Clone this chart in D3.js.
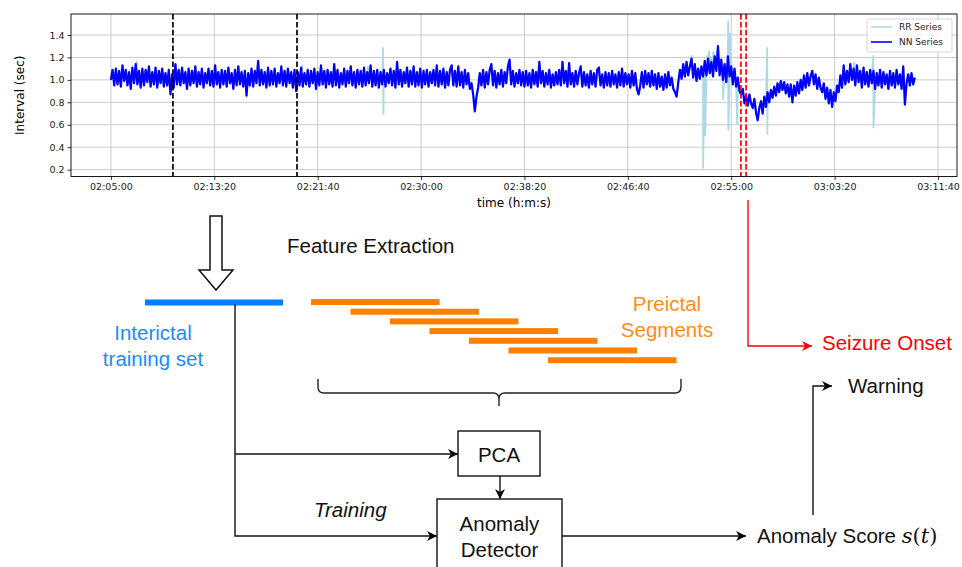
<!DOCTYPE html>
<html>
<head>
<meta charset="utf-8">
<script src="https://cdn.jsdelivr.net/npm/d3@7"></script>
<style>
  html, body { margin: 0; padding: 0; background: #fff; }
  svg { display: block; }
</style>
</head>
<body>
<svg id="fig" width="962" height="567"></svg>
<script>
// NN intervals (sec), one reading every 8 s from 02:05:00
const nnStart = "02:05:00";
const nnStep = 8;
const nnValues = [
  1.00,1.09,0.95,1.10,0.96,1.08,0.94,1.13,0.99,1.09, 0.95,1.07,0.92,1.11,0.97,1.14,0.96,1.08,0.93,1.10,
  0.95,1.09,0.98,1.12,0.94,1.07,0.96,1.11,0.93,1.08, 0.97,1.10,0.94,1.06,0.95,1.09,0.87,1.05,0.93,1.14,
  0.96,1.09,0.95,1.11,0.97,1.07,0.92,1.10,0.95,1.08, 0.97,1.12,0.94,1.07,0.96,1.10,0.93,1.06,0.97,1.10,
  0.95,1.08,0.94,1.13,0.96,1.07,0.93,1.09,0.96,1.08, 0.94,1.11,0.97,1.06,0.92,1.09,0.95,1.12,0.96,1.07,
  0.94,1.08,0.86,1.06,0.95,1.10,0.94,1.08,0.97,1.17, 0.95,1.09,0.96,1.07,0.93,1.11,0.95,1.08,0.96,1.10,
  0.94,1.06,0.97,1.12,0.95,1.08,0.94,1.10,0.97,1.07, 0.93,1.09,0.90,1.07,0.95,1.11,0.94,1.06,0.96,1.09,
  0.94,1.08,0.97,1.10,0.92,1.07,0.95,1.13,0.96,1.08, 0.93,1.09,0.96,1.07,0.94,1.14,0.95,1.09,0.93,1.06,
  0.96,1.10,0.94,1.08,0.97,1.12,0.95,1.07,0.93,1.09, 0.96,1.08,0.94,1.11,0.95,1.07,0.97,1.13,0.94,1.08,
  0.95,1.09,0.93,1.07,0.96,1.09,0.94,1.06,0.97,1.10, 0.95,1.08,0.93,1.16,0.96,1.09,0.94,1.07,0.97,1.11,
  0.94,1.08,0.96,1.12,0.94,1.07,0.95,1.10,0.93,1.08, 0.96,1.09,0.94,1.07,0.97,1.09,0.95,1.13,0.94,1.08,
  0.96,1.10,0.93,1.07,0.95,1.09,1.13,0.95,1.08,0.94, 1.12,0.95,1.07,0.93,1.09,0.96,1.06,0.92,0.97,0.87,
  0.72,0.85,0.93,1.06,0.95,1.09,0.93,1.07,0.96,1.09, 1.14,0.95,1.08,0.93,1.06,0.96,1.09,0.94,1.07,0.97,
  1.12,1.18,0.96,1.08,0.94,1.06,0.97,1.09,0.95,1.07, 0.94,1.08,0.95,1.06,0.93,1.09,0.96,1.07,0.94,1.16,
  0.97,1.08,0.94,1.06,0.96,1.09,0.93,1.05,0.95,1.07, 0.96,1.09,0.95,1.16,0.97,1.08,0.94,1.15,0.96,1.06,
  0.94,1.08,0.96,1.06,1.12,0.94,1.07,0.95,1.05,0.93, 1.08,0.96,1.06,0.94,1.09,1.11,0.95,1.05,0.93,1.07,
  0.95,1.06,0.94,1.08,0.96,1.05,0.93,1.07,0.95,1.10, 0.94,1.06,0.96,1.05,0.93,1.08,0.95,1.06,0.92,0.87,
  0.95,1.07,0.93,1.08,0.96,1.06,0.94,1.08,0.95,1.05, 0.92,1.06,0.94,1.03,0.91,1.05,0.93,1.07,0.95,1.02,
  0.92,0.89,0.85,0.98,1.09,1.01,1.14,1.03,1.16,1.04, 1.12,1.19,1.02,1.14,0.99,1.10,1.01,1.12,1.03,1.17,
  1.04,1.19,1.06,1.16,1.03,1.21,1.08,1.30,1.04,1.18, 1.00,1.14,0.98,1.21,1.03,1.12,0.96,1.10,0.94,1.02,
  0.90,0.87,0.92,0.79,0.86,0.77,0.87,0.79,0.75,0.83, 0.71,0.64,0.75,0.81,0.70,0.85,0.76,0.89,0.80,0.91,
  0.84,0.94,0.86,0.97,0.89,0.99,0.91,0.98,0.88,0.96, 0.85,0.96,0.80,0.95,0.86,0.98,0.88,1.00,0.91,1.04,
  0.93,1.06,0.95,1.03,1.08,0.96,1.05,0.92,1.02,0.93, 0.89,0.97,0.83,0.93,0.79,0.91,0.76,0.89,0.81,0.95,
  0.89,1.04,0.93,1.13,0.96,1.08,0.98,1.14,1.00,1.10, 0.95,1.13,0.98,1.08,0.93,1.11,0.96,1.07,0.94,1.09,
  0.97,1.08,0.92,1.06,0.95,1.09,0.93,1.07,0.96,1.05, 0.92,1.08,0.95,1.06,0.93,1.09,0.96,1.05,0.92,1.12,
  0.78,0.97,1.05,0.95,1.06,0.96,1.02
];

// beats where the raw RR series departs from the NN series
const rrArtifacts = [
  ["02:07:05", 1.17], ["02:20:24", 1.12], ["02:25:43", 1.12],
  ["02:26:56", 1.29], ["02:26:58", 0.69],
  ["02:51:48", 1.22], ["02:52:44", 0.21], ["02:52:54", 0.50],
  ["02:53:03", 1.22], ["02:53:13", 1.26], ["02:53:23", 1.20], ["02:53:33", 1.25],
  ["02:53:43", 1.21], ["02:53:52", 1.24], ["02:54:21", 0.82],
  ["02:54:45", 1.53], ["02:54:46", 0.55], ["02:54:53", 1.42], ["02:55:29", 0.60],
  ["02:57:54", 1.29], ["02:57:55", 0.51],
  ["03:04:55", 1.16], ["03:06:27", 1.22], ["03:06:28", 0.57]
];

const xTickLabels = ["02:05:00", "02:13:20", "02:21:40", "02:30:00", "02:38:20",
                     "02:46:40", "02:55:00", "03:03:20", "03:11:40"];
const yTickValues = [0.2, 0.4, 0.6, 0.8, 1.0, 1.2, 1.4];
const trainingMarks = ["02:10:00", "02:20:00"];
const onsetMarks = ["02:55:47", "02:56:12"];
const seriesNames = ["RR Series", "NN Series"];

function toSec(s) {
  const p = s.split(":").map(Number);
  return p[0] * 3600 + p[1] * 60 + p[2];
}

const svg = d3.select("#fig");
const plot = { left: 71, right: 957, top: 14, bottom: 176.5 };

const x = d3.scaleLinear()
  .domain([toSec("02:01:47"), toSec("03:13:12")])
  .range([plot.left, plot.right]);
const y = d3.scaleLinear()
  .domain([0.139, 1.587])
  .range([plot.bottom, plot.top]);

const t0 = toSec(nnStart);
const nn = nnValues.map((v, i) => ({ t: t0 + i * nnStep, v: v }));
const rr = nn.concat(rrArtifacts.map(d => ({ t: toSec(d[0]), v: d[1] })))
  .sort((a, b) => a.t - b.t);

svg.append("defs").append("clipPath").attr("id", "clip")
  .append("rect")
  .attr("x", plot.left).attr("y", plot.top)
  .attr("width", plot.right - plot.left).attr("height", plot.bottom - plot.top);

// grid
const grid = svg.append("g").attr("stroke", "#c4c4c4").attr("stroke-width", 0.9);
xTickLabels.forEach(s => {
  grid.append("line").attr("x1", x(toSec(s))).attr("x2", x(toSec(s)))
    .attr("y1", plot.top).attr("y2", plot.bottom);
});
yTickValues.forEach(v => {
  grid.append("line").attr("x1", plot.left).attr("x2", plot.right)
    .attr("y1", y(v)).attr("y2", y(v));
});

const line = d3.line().x(d => x(d.t)).y(d => y(d.v));
const lines = svg.append("g").attr("clip-path", "url(#clip)");

lines.append("path").datum(rr)
  .attr("d", line).attr("fill", "none")
  .attr("stroke", "#add8e6").attr("stroke-width", 1.8);

lines.append("path").datum(nn)
  .attr("d", line).attr("fill", "none")
  .attr("stroke", "#0000ff").attr("stroke-width", 2.2)
  .attr("stroke-linejoin", "round");

trainingMarks.forEach(s => {
  lines.append("line").attr("x1", x(toSec(s))).attr("x2", x(toSec(s)))
    .attr("y1", plot.top).attr("y2", plot.bottom)
    .attr("stroke", "#000").attr("stroke-width", 1.7)
    .attr("stroke-dasharray", "5.5,2.4");
});
onsetMarks.forEach(s => {
  lines.append("line").attr("x1", x(toSec(s))).attr("x2", x(toSec(s)))
    .attr("y1", plot.top).attr("y2", plot.bottom)
    .attr("stroke", "#ff0000").attr("stroke-width", 1.7)
    .attr("stroke-dasharray", "5.5,2.4");
});

// axes
const xAxis = svg.append("g")
  .attr("transform", `translate(0,${plot.bottom})`)
  .call(d3.axisBottom(x)
    .tickValues(xTickLabels.map(toSec))
    .tickFormat((d, i) => xTickLabels[i])
    .tickSize(3.5).tickPadding(3));
const yAxis = svg.append("g")
  .attr("transform", `translate(${plot.left},0)`)
  .call(d3.axisLeft(y)
    .tickValues(yTickValues)
    .tickFormat(d3.format(".1f"))
    .tickSize(3.5).tickPadding(3));
[xAxis, yAxis].forEach(a => {
  a.select(".domain").remove();
  a.selectAll(".tick line").attr("stroke", "#000").attr("stroke-width", 0.8);
  a.selectAll(".tick text")
    .attr("fill", "#222")
    .style("font-family", "DejaVu Sans")
    .style("font-size", "9.5px");
});

svg.append("rect")
  .attr("x", plot.left).attr("y", plot.top)
  .attr("width", plot.right - plot.left).attr("height", plot.bottom - plot.top)
  .attr("fill", "none").attr("stroke", "#000").attr("stroke-width", 0.9);

svg.append("text")
  .attr("x", (plot.left + plot.right) / 2).attr("y", 207)
  .attr("text-anchor", "middle")
  .style("font-family", "DejaVu Sans").style("font-size", "12px")
  .text("time (h:m:s)");
svg.append("text")
  .attr("transform", `translate(24,${(plot.top + plot.bottom) / 2}) rotate(-90)`)
  .attr("text-anchor", "middle")
  .style("font-family", "DejaVu Sans").style("font-size", "12px")
  .text("Interval (sec)");

// legend
const legend = svg.append("g");
legend.append("rect")
  .attr("x", 867).attr("y", 19).attr("width", 85).attr("height", 33)
  .attr("rx", 2).attr("fill", "#fff").attr("fill-opacity", 0.8)
  .attr("stroke", "#d0d0d0").attr("stroke-width", 0.9);
[["#add8e6", 0], ["#0000ff", 1]].forEach(([c, i]) => {
  const ly = 27 + i * 15;
  legend.append("line").attr("x1", 871).attr("x2", 892).attr("y1", ly).attr("y2", ly)
    .attr("stroke", c).attr("stroke-width", 1.6);
  legend.append("text").attr("x", 899).attr("y", ly + 3.3)
    .style("font-family", "DejaVu Sans").style("font-size", "9px")
    .attr("fill", "#222")
    .text(seriesNames[i]);
});

// ---- pipeline diagram ----
const defs = svg.select("defs");
function marker(id, color) {
  defs.append("marker").attr("id", id)
    .attr("viewBox", "0 0 10 10").attr("refX", 10).attr("refY", 5)
    .attr("markerUnits", "userSpaceOnUse")
    .attr("markerWidth", 11).attr("markerHeight", 10)
    .attr("orient", "auto")
    .append("path").attr("d", "M0,0 L10,5 L0,10 L3,5 Z").attr("fill", color);
}
marker("arrK", "#000");
marker("arrR", "#ff0000");

function arrow(pts, color, mk) {
  svg.append("polyline")
    .attr("points", pts.map(p => p.join(",")).join(" "))
    .attr("fill", "none").attr("stroke", color).attr("stroke-width", 1.4)
    .attr("marker-end", mk ? `url(#${mk})` : null);
}
function label(tx, ty, txt, opt) {
  opt = opt || {};
  return svg.append("text").attr("x", tx).attr("y", ty)
    .attr("text-anchor", opt.anchor || "start")
    .attr("fill", opt.color || "#111")
    .style("font-family", "Liberation Sans, Arial, sans-serif")
    .style("font-size", (opt.size || 20.5) + "px")
    .style("font-style", opt.italic ? "italic" : "normal")
    .text(txt);
}

// hollow arrow
svg.append("path")
  .attr("d", "M210,216 L222,216 L222,270 L233,270 L216,290 L199,270 L210,270 Z")
  .attr("fill", "#fff").attr("stroke", "#111").attr("stroke-width", 1.5);

label(287, 253, "Feature Extraction");

// interictal set
svg.append("rect").attr("x", 145).attr("y", 299.5).attr("width", 138).attr("height", 6)
  .attr("fill", "#007fff");
label(153, 340, "Interictal", { anchor: "middle", color: "#1a8cff" });
label(153, 366, "training set", { anchor: "middle", color: "#1a8cff" });

// preictal segments
for (let k = 0; k < 7; k++) {
  svg.append("rect")
    .attr("x", 311 + k * 39.5).attr("y", 299 + k * 9.7)
    .attr("width", 128.5).attr("height", 6)
    .attr("fill", "#ff8000");
}
label(667, 311, "Preictal", { anchor: "middle", color: "#ff8c1a" });
label(667, 337, "Segments", { anchor: "middle", color: "#ff8c1a" });

// brace
svg.append("path")
  .attr("d", "M318,379 V387 Q318,393 324,393 H493 Q499,393 499,399 V406 " +
             "M499,399 Q499,393 505,393 H675 Q681,393 681,387 V379")
  .attr("fill", "none").attr("stroke", "#222").attr("stroke-width", 1.4);

// training flows
arrow([[235, 304], [235, 536], [437, 536]], "#111", "arrK");
arrow([[235, 454], [458, 454]], "#111", "arrK");
label(314, 517, "Training", { italic: true });

// PCA / detector boxes
svg.append("rect").attr("x", 458).attr("y", 431).attr("width", 82).attr("height", 45)
  .attr("fill", "#fff").attr("stroke", "#111").attr("stroke-width", 1.4);
label(499, 462, "PCA", { anchor: "middle" });
arrow([[500, 476], [500, 499]], "#111", "arrK");
svg.append("rect").attr("x", 437).attr("y", 499).attr("width", 125).attr("height", 80)
  .attr("fill", "#fff").attr("stroke", "#111").attr("stroke-width", 1.4);
label(499.5, 531, "Anomaly", { anchor: "middle" });
label(499.5, 557, "Detector", { anchor: "middle" });

arrow([[562, 536], [746, 536]], "#111", "arrK");
const score = label(757, 543, "Anomaly Score ");
score.append("tspan").style("font-family", "DejaVu Serif").style("font-style", "italic")
  .style("font-size", "21px").text("s");
score.append("tspan").style("font-family", "DejaVu Serif")
  .style("font-size", "21px").text("(");
score.append("tspan").style("font-family", "DejaVu Serif").style("font-style", "italic")
  .style("font-size", "21px").text("t");
score.append("tspan").style("font-family", "DejaVu Serif")
  .style("font-size", "21px").text(")");

arrow([[813, 515], [813, 386], [832, 386]], "#111", "arrK");
label(848, 393, "Warning");

// seizure onset
arrow([[748, 200], [748, 346], [812, 346]], "#ff0000", "arrR");
label(822, 350, "Seizure Onset", { color: "#ff0000" });
</script>
</body>
</html>
